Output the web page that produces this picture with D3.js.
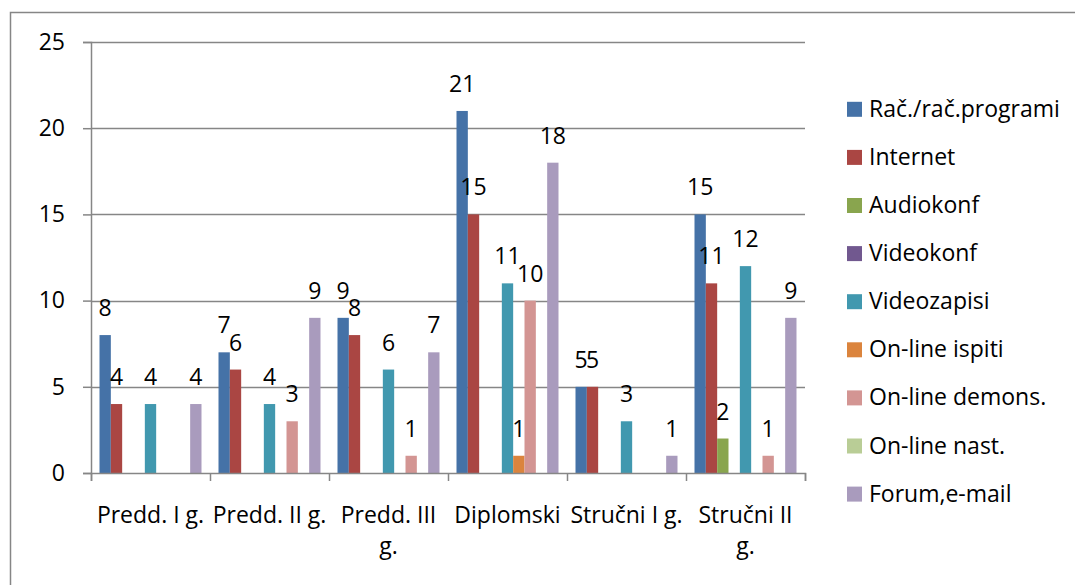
<!DOCTYPE html>
<html>
<head>
<meta charset="utf-8">
<script src="https://cdn.jsdelivr.net/npm/d3@7"></script>
<style>
  body { margin: 0; background: #fff; }
  svg { display: block; font-family: "Open Sans", sans-serif; }
</style>
</head>
<body>
<svg></svg>
<script>
let categories = ['Predd. I g.', 'Predd. II g.', 'Predd. III g.', 'Diplomski', 'Stručni I g.', 'Stručni II g.']
let categoryLines = [['Predd. I g.'], ['Predd. II g.'], ['Predd. III', 'g.'], ['Diplomski'], ['Stručni I g.'], ['Stručni II', 'g.']]

let seriesNames = ['Rač./rač.programi', 'Internet', 'Audiokonf', 'Videokonf', 'Videozapisi', 'On-line ispiti', 'On-line demons.', 'On-line nast.', 'Forum,e-mail']
let seriesColors = ['#4572A7', '#AA4643', '#89A54E', '#71588F', '#4198AF', '#DB843D', '#D39593', '#B9CD96', '#A99BBD']

let racProgrami = [8, 7, 9, 21, 5, 15]
let internet = [4, 6, 8, 15, 5, 11]
let audiokonf = [0, 0, 0, 0, 0, 2]
let videokonf = [0, 0, 0, 0, 0, 0]
let videozapisi = [4, 4, 6, 11, 3, 12]
let onlineIspiti = [0, 0, 0, 1, 0, 0]
let onlineDemons = [0, 3, 1, 10, 0, 1]
let onlineNast = [0, 0, 0, 0, 0, 0]
let forumEmail = [4, 9, 7, 18, 1, 9]

let yTicks = [0, 5, 10, 15, 20, 25]

let seriesValues = [racProgrami, internet, audiokonf, videokonf, videozapisi, onlineIspiti, onlineDemons, onlineNast, forumEmail]

let width = 1075
let height = 585
let plotLeft = 91
let plotRight = 805
let plotTop = 42
let plotBottom = 473
let fontSize = 23
let gray = '#868686'

let svg = d3.select('svg').attr('width', width).attr('height', height)

// outer frame, cut off at right and bottom like the original
svg.append('rect')
  .attr('x', 10.5).attr('y', 12.5)
  .attr('width', 1100).attr('height', 600)
  .attr('fill', 'none').attr('stroke', gray).attr('stroke-width', 1.5)

let x0 = d3.scaleBand().domain(categories).range([plotLeft, plotRight]).paddingInner(0).paddingOuter(0)
let x1 = d3.scaleBand().domain(seriesNames).range([0, x0.bandwidth()]).paddingInner(0).paddingOuter(0.75)
let y = d3.scaleLinear().domain([0, 25]).range([plotBottom, plotTop])
let xEdge = d3.scaleLinear().domain([0, categories.length]).range([plotLeft, plotRight])

// gridlines
svg.append('g')
  .selectAll('line')
  .data(yTicks.filter(d => d > 0))
  .enter()
  .append('line')
  .attr('x1', plotLeft).attr('x2', plotRight)
  .attr('y1', d => Math.round(y(d)) + 0.5).attr('y2', d => Math.round(y(d)) + 0.5)
  .attr('stroke', gray).attr('stroke-width', 1.5)

// bars
let groups = svg.append('g')
  .selectAll('g')
  .data(seriesNames)
  .enter()
  .append('g')
  .attr('fill', (d, i) => seriesColors[i])

groups.selectAll('rect')
  .data((name, si) => seriesValues[si].map((v, ci) => ({ name: name, cat: categories[ci], value: v })))
  .enter()
  .filter(d => d.value > 0)
  .append('rect')
  .attr('x', d => x0(d.cat) + x1(d.name))
  .attr('width', x1.bandwidth())
  .attr('y', d => y(d.value))
  .attr('height', d => y(0) - y(d.value))

// data labels
groups.selectAll('text')
  .data((name, si) => seriesValues[si].map((v, ci) => ({ name: name, cat: categories[ci], value: v })))
  .enter()
  .filter(d => d.value > 0)
  .append('text')
  .attr('x', d => x0(d.cat) + x1(d.name) + x1.bandwidth() / 2)
  .attr('y', d => y(d.value) - 19)
  .attr('text-anchor', 'middle')
  .attr('fill', '#000')
  .attr('font-size', fontSize)
  .text(d => d.value)

// y axis
let yAxis = d3.axisLeft(y).tickValues(yTicks).tickSize(8).tickPadding(18)
let yG = svg.append('g')
  .attr('transform', 'translate(' + plotLeft + ', 0)')
  .call(yAxis)
yG.select('.domain').attr('stroke', gray).attr('stroke-width', 1.5)
yG.selectAll('.tick line').attr('stroke', gray).attr('stroke-width', 1.5)
yG.selectAll('.tick text').attr('font-size', fontSize).attr('fill', '#000').attr('font-family', '"Open Sans", sans-serif')

// x axis with ticks on category boundaries
let xAxis = d3.axisBottom(xEdge).tickValues(d3.range(categories.length + 1)).tickSize(8).tickFormat('')
let xG = svg.append('g')
  .attr('transform', 'translate(0, ' + plotBottom + ')')
  .call(xAxis)
xG.select('.domain').attr('stroke', gray).attr('stroke-width', 1.5)
xG.selectAll('.tick line').attr('stroke', gray).attr('stroke-width', 1.5)

// category labels
let catText = svg.append('g')
  .selectAll('text')
  .data(categories)
  .enter()
  .append('text')
  .attr('x', d => x0(d) + x0.bandwidth() / 2)
  .attr('y', 522.5)
  .attr('text-anchor', 'middle')
  .attr('font-size', fontSize)
  .attr('fill', '#000')

catText.selectAll('tspan')
  .data((d, i) => categoryLines[i])
  .enter()
  .append('tspan')
  .attr('x', function () { return d3.select(this.parentNode).attr('x') })
  .attr('dy', (d, i) => i === 0 ? 0 : 31)
  .text(d => d)

// legend
let legend = svg.append('g')
  .selectAll('g')
  .data(seriesNames)
  .enter()
  .append('g')
  .attr('transform', (d, i) => 'translate(847, ' + (109.3 + i * 48.1) + ')')

legend.append('rect')
  .attr('x', 0).attr('y', -7.5)
  .attr('width', 15).attr('height', 15)
  .attr('fill', (d, i) => seriesColors[i])

legend.append('text')
  .attr('x', 22)
  .attr('y', 7.5)
  .attr('font-size', fontSize)
  .attr('fill', '#000')
  .text(d => d)
</script>
</body>
</html>
